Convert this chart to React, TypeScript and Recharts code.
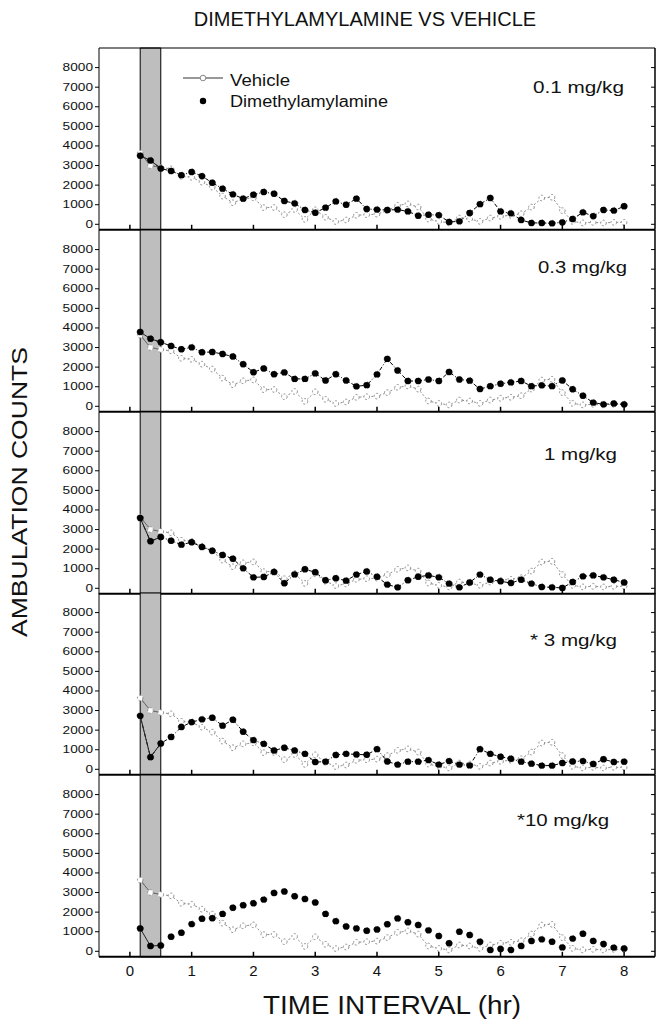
import React from "react"
import { LineChart, Line, XAxis, YAxis, ReferenceArea, ReferenceLine } from "recharts"

// 10-min bins over 8 h
const minutes = [
  10, 20, 30, 40, 50, 60, 70, 80, 90, 100, 110, 120,
  130, 140, 150, 160, 170, 180, 190, 200, 210, 220, 230, 240,
  250, 260, 270, 280, 290, 300, 310, 320, 330, 340, 350, 360,
  370, 380, 390, 400, 410, 420, 430, 440, 450, 460, 470, 480,
]

const vehicle = [
  3640, 3000, 2900, 2830, 2450, 2400, 2150, 1900, 1440, 1100, 1300, 1350,
  850, 860, 490, 760, 250, 740, 360, 140, 220, 460, 490, 520,
  700, 970, 1040, 880, 270, 150, 70, 320, 270, 150, 320, 410,
  460, 540, 880, 1340, 1380, 700, 150, 70, 100, 70, 100, 100,
]

const dose01 = [
  3500, 3260, 2850, 2720, 2510, 2670, 2460, 2120, 1820, 1530, 1310, 1510,
  1650, 1560, 1190, 1070, 730, 590, 850, 1170, 1000, 1310, 780, 750,
  730, 750, 660, 440, 490, 470, 120, 150, 580, 1030, 1340, 660,
  560, 220, 70, 70, 50, 100, 270, 610, 420, 730, 700, 920,
]

const dose03 = [
  3790, 3450, 3270, 3080, 2910, 3010, 2760, 2770, 2670, 2540, 2150, 1740,
  1930, 1640, 1730, 1400, 1400, 1680, 1320, 1640, 1320, 1020, 1080, 1630,
  2420, 1830, 1290, 1290, 1370, 1290, 1750, 1370, 1310, 880, 1030, 1150,
  1220, 1290, 1030, 1070, 1030, 1320, 870, 540, 190, 100, 140, 100,
]

const dose1 = [
  3590, 2400, 2620, 2430, 2230, 2350, 2110, 1920, 1700, 1510, 1020, 560,
  580, 830, 260, 710, 970, 820, 410, 510, 390, 700, 860, 590,
  190, 50, 410, 590, 660, 560, 240, 50, 300, 700, 440, 360,
  270, 440, 240, 70, 50, 20, 320, 610, 660, 560, 440, 300,
]

const dose3 = [
  2730, 620, 1320, 1650, 2160, 2410, 2550, 2630, 2230, 2530, 1920, 1490,
  1300, 960, 1100, 960, 790, 370, 390, 730, 790, 760, 740, 1030,
  400, 240, 390, 390, 470, 240, 420, 240, 200, 1030, 790, 640,
  540, 390, 290, 190, 190, 320, 400, 420, 270, 510, 370, 390,
]

const dose10 = [
  1170, 270, 300, 740, 950, 1390, 1660, 1690, 1910, 2220, 2350, 2450,
  2640, 2980, 3050, 2810, 2670, 2490, 1910, 1540, 1270, 1170, 1050, 1110,
  1380, 1680, 1480, 1340, 1070, 780, 410, 1000, 830, 490, 70, 120,
  70, 270, 530, 610, 490, 200, 650, 900, 530, 370, 190, 140,
]

const hourTicks = [0, 1, 2, 3, 4, 5, 6, 7, 8]
const countTicks = [0, 1000, 2000, 3000, 4000, 5000, 6000, 7000, 8000]
const doseLabels = ["0.1 mg/kg", "0.3 mg/kg", "1 mg/kg", "* 3 mg/kg", "*10 mg/kg"]
const doseSeries = [dose01, dose03, dose1, dose3, dose10]

const FONT = "'Liberation Sans', Arial, Helvetica, sans-serif"
const PANEL_TOP = 48
const PANEL_H = 181.8
const PAD = 4
const Y_DOMAIN: [number, number] = [-280, 9000]
const BAND: [number, number] = [10 / 60, 0.5]

// label placement per panel: [x, baseline, width]
const doseText: [number, number, number][] = [
  [533, 93, 91],
  [538, 273, 89],
  [544, 460, 73],
  [530, 646, 87],
  [517, 826, 92],
]

const XTick = (props: any) => {
  const { x, y, payload, showLabel } = props
  return (
    <g>
      <line x1={x} x2={x} y1={y} y2={y - 5} stroke="#000" strokeWidth={1.5} />
      {showLabel && (
        <text x={x} y={y + 19} textAnchor="middle" fontSize={15} fontFamily={FONT} fill="#111">
          {payload.value}
        </text>
      )}
    </g>
  )
}

const YTick = (props: any) => {
  const { x, y, payload } = props
  const s = String(payload.value)
  return (
    <text
      x={x}
      y={y}
      dy={3.5}
      textAnchor="end"
      fontSize={10}
      fontFamily={FONT}
      fill="#111"
      textLength={s.length * 7.6}
      lengthAdjust="spacingAndGlyphs"
    >
      {s}
    </text>
  )
}

const RightTick = (props: any) => {
  const { x, y } = props
  return <line x1={x} x2={x - 4} y1={y} y2={y} stroke="#000" strokeWidth={1} />
}

const Panel = ({ index }: { index: number }) => {
  const drug = doseSeries[index]
  const last = index === doseSeries.length - 1
  const rows = minutes.map((m, i) => ({
    t: m / 60,
    vehicle: vehicle[i],
    drug: drug[i],
    vEarly: i < 3 ? vehicle[i] : null,
    dEarly: i < 3 ? drug[i] : null,
  }))
  const xH = last ? 34 : PAD
  return (
    <div style={{ position: "absolute", left: 0, top: PANEL_TOP + index * PANEL_H - PAD }}>
      <LineChart
        width={666}
        height={PAD + PANEL_H + xH}
        data={rows}
        margin={{ top: PAD, right: 0, bottom: 0, left: 0 }}
      >
        <XAxis
          dataKey="t"
          type="number"
          domain={[-0.5, 8.5]}
          ticks={hourTicks}
          interval={0}
          allowDataOverflow
          height={xH}
          tickLine={false}
          tickSize={0}
          tickMargin={0}
          axisLine={{ stroke: "#000", strokeWidth: 2 }}
          tick={(p: any) => <XTick {...p} showLabel={last} />}
        />
        <YAxis
          yAxisId="l"
          type="number"
          domain={Y_DOMAIN}
          ticks={countTicks}
          interval={0}
          allowDataOverflow
          width={99}
          tickSize={4}
          tickMargin={2}
          tickLine={{ stroke: "#000" }}
          axisLine={{ stroke: "#000", strokeWidth: 1 }}
          tick={(p: any) => <YTick {...p} />}
        />
        <YAxis
          yAxisId="r"
          orientation="right"
          type="number"
          domain={Y_DOMAIN}
          ticks={countTicks}
          interval={0}
          allowDataOverflow
          width={11}
          tickSize={0}
          tickMargin={0}
          tickLine={false}
          axisLine={{ stroke: "#000", strokeWidth: 1.5 }}
          tick={(p: any) => <RightTick {...p} />}
        />
        <ReferenceArea
          yAxisId="l"
          x1={BAND[0]}
          x2={BAND[1]}
          fill="#bebebe"
          fillOpacity={1}
          stroke="#000"
          strokeWidth={1}
        />
        {index === 0 && <ReferenceLine yAxisId="l" y={Y_DOMAIN[1]} stroke="#000" strokeWidth={1.2} />}
        <Line
          yAxisId="l"
          dataKey="vehicle"
          stroke="#8a8a8a"
          strokeWidth={1}
          strokeDasharray="2 2"
          dot={{ r: 2.8, fill: "#fff", stroke: "#8a8a8a", strokeWidth: 1 }}
          activeDot={false}
          isAnimationActive={false}
        />
        <Line
          yAxisId="l"
          dataKey="vEarly"
          stroke="#666"
          strokeWidth={1}
          dot={false}
          activeDot={false}
          isAnimationActive={false}
        />
        <Line
          yAxisId="l"
          dataKey="drug"
          stroke={last ? "none" : "#000"}
          strokeWidth={1}
          strokeDasharray="4 2 1 2"
          dot={{ r: 3.2, fill: "#000", stroke: "#000", strokeWidth: 0.5 }}
          activeDot={false}
          isAnimationActive={false}
        />
        <Line
          yAxisId="l"
          dataKey="dEarly"
          stroke="#222"
          strokeWidth={1}
          dot={false}
          activeDot={false}
          isAnimationActive={false}
        />
      </LineChart>
    </div>
  )
}

export default function App() {
  return (
    <div style={{ position: "fixed", left: 0, top: 0, width: 666, height: 1035, background: "#fff" }}>
      {doseSeries.map((_, i) => (
        <Panel key={i} index={i} />
      ))}
      <svg
        width={666}
        height={1035}
        style={{ position: "absolute", left: 0, top: 0, pointerEvents: "none" }}
        fontFamily={FONT}
      >
        <text x={365} y={26} textAnchor="middle" fontSize={20} fill="#111">
          DIMETHYLAMYLAMINE VS VEHICLE
        </text>
        <text
          x={0}
          y={0}
          transform="translate(27 492) rotate(-90)"
          textAnchor="middle"
          fontSize={22}
          fill="#111"
          textLength={290}
          lengthAdjust="spacingAndGlyphs"
        >
          AMBULATION COUNTS
        </text>
        <text
          x={392}
          y={1014}
          textAnchor="middle"
          fontSize={26}
          fill="#111"
          textLength={258}
          lengthAdjust="spacingAndGlyphs"
        >
          TIME INTERVAL (hr)
        </text>
        {doseLabels.map((s, i) => (
          <text
            key={s}
            x={doseText[i][0]}
            y={doseText[i][1]}
            fontSize={16}
            fill="#111"
            textLength={doseText[i][2]}
            lengthAdjust="spacingAndGlyphs"
          >
            {s}
          </text>
        ))}
        {/* legend */}
        <line x1={183} x2={223} y1={78} y2={78} stroke="#333" strokeWidth={1} />
        <circle cx={203} cy={78} r={2.8} fill="#fff" stroke="#8a8a8a" />
        <text x={230} y={86} fontSize={16} fill="#111" textLength={60} lengthAdjust="spacingAndGlyphs">
          Vehicle
        </text>
        <circle cx={203} cy={101} r={3.2} fill="#000" />
        <text x={230} y={107} fontSize={16} fill="#111" textLength={158} lengthAdjust="spacingAndGlyphs">
          Dimethylamylamine
        </text>
      </svg>
    </div>
  )
}
